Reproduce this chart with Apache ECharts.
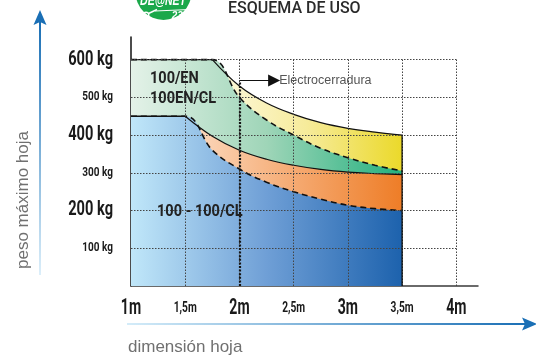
<!DOCTYPE html>
<html>
<head>
<meta charset="utf-8">
<title>Esquema de uso</title>
<script src="https://cdn.jsdelivr.net/npm/echarts@6/dist/echarts.min.js"></script>
<style>
  html, body { margin: 0; padding: 0; background: #fff; }
  #chart { width: 536px; height: 356px; }
</style>
</head>
<body>
<div id="chart"></div>
<script>
// dimensión hoja (m) donde se leen las curvas
const dims = [1, 1.5, 1.75, 2, 2.25, 2.5, 2.75, 3, 3.25, 3.5];
// peso máximo (kg) en el borde superior de cada zona
const yellowTop = [null, null, 600, 530, 485, 455, 433, 418, 408, 400];
const greenTop  = [600, 600, 600, 500, 440, 400, 365, 340, 320, 305];
const orangeTop = [null, 450, 397, 360, 336, 320, 309, 302, 298, 295];
const blueTop   = [450, 450, 360, 310, 275, 250, 230, 214, 205, 200];

const xTicks  = [1, 1.5, 2, 2.5, 3, 3.5, 4];
const xLabels = ['1m', '1,5m', '2m', '2,5m', '3m', '3,5m', '4m'];
const yTicks  = [100, 200, 300, 400, 500, 600];
const yLabels = ['100 kg', '200 kg', '300 kg', '400 kg', '500 kg', '600 kg'];

const lockDim = 2;          // Electrocerradura
const lockArrow = [2, 2.32, 545];
const zonePos = [[1.175, 549], [1.175, 496], [1.24, 196]];
const zoneNames = ['100/EN', '100EN/CL', '100 - 100/CL'];

const SANS = '"Liberation Sans", Arial, sans-serif';
const COND = 'Roboto, "Liberation Sans", sans-serif';

function pairs(arr, from, to) {
  const out = [];
  dims.forEach((d, i) => {
    if (arr[i] == null) return;
    if (from != null && d < from) return;
    if (to != null && d > to) return;
    out.push([d, arr[i]]);
  });
  return out;
}

function grad(stops) {
  return new echarts.graphic.LinearGradient(0, 0, 1, 0,
    stops.map((c, i) => ({ offset: i / (stops.length - 1), color: c })));
}

function zone(name, arr, colors, lineType, z) {
  return {
    name, type: 'line', data: pairs(arr), smooth: 0.4,
    showSymbol: false, silent: true, z,
    lineStyle: { color: '#111', width: lineType === 'solid' ? 1.2 : 1.6, type: lineType },
    areaStyle: { color: grad(colors), opacity: 1 }
  };
}

function edge(data, type) {
  return {
    type: 'line', data, showSymbol: false, silent: true, z: 4,
    lineStyle: { color: '#111', width: 1.3, type }
  };
}

// textos estrechos (la fuente original es condensada)
function textSeries(data, render) {
  return {
    type: 'custom', silent: true, clip: false, z: 10, data,
    renderItem: (params, api) => {
      const t = render(params.dataIndex, api.coord([api.value(0), api.value(1)]));
      return {
        type: 'text', x: t.x, y: t.y, scaleX: t.scaleX,
        style: { text: t.text, font: t.font, fill: t.fill || '#1a1a1a',
                 align: t.align, verticalAlign: 'middle' }
      };
    }
  };
}

// lineas de la cuadricula
const gridLines = [];
xTicks.slice(1).forEach(x => {
  gridLines.push([{ coord: [x, 0] }, { coord: [x, yTicks[yTicks.length - 1]] }]);
});
yTicks.forEach(y => {
  gridLines.push([{ coord: [xTicks[0], y] }, { coord: [xTicks[xTicks.length - 1], y] }]);
});

const lastIdx = dims.length - 1;

let myChart = echarts.init(document.getElementById('chart'));
let option = {
  animation: false,
  backgroundColor: '#fff',
  grid: { left: 131, right: 58, top: 37, bottom: 70 },
  xAxis: {
    type: 'value', min: 1, max: 4.2, interval: 0.5,
    axisLine: { show: true, lineStyle: { color: '#3a3a3a', width: 1.5 } },
    axisTick: { show: false },
    splitLine: { show: false },
    axisLabel: { show: false }
  },
  yAxis: {
    type: 'value', min: 0, max: 660, interval: 100,
    axisLine: { show: true, lineStyle: { color: '#111', width: 1.5 } },
    axisTick: { show: false },
    splitLine: { show: false },
    axisLabel: { show: false }
  },
  series: [
    zone('yellow', yellowTop, ['#fdf9e0', '#f6eb9a', '#ebd92a'], 'solid', 1),
    zone('green', greenTop, ['#e4f2e8', '#9fd5b8', '#22b07e'], [6, 4], 1),
    zone('orange', orangeTop, ['#fcdcc3', '#f5aa72', '#ee7d27'], 'solid', 1),
    zone('blue', blueTop, ['#c0e7f9', '#6f9fd6', '#1d62ad'], [6, 4], 1),
    edge(pairs(greenTop, null, 1.75), 'solid'),
    edge(pairs(blueTop, null, 1.5), 'solid'),
    {
      type: 'line', silent: true, showSymbol: false, z: 5,
      data: [[dims[lastIdx], 0], [dims[lastIdx], yellowTop[lastIdx]]],
      lineStyle: { color: '#111', width: 1.3 },
      markLine: {
        silent: true, symbol: 'none', animation: false,
        label: { show: false },
        lineStyle: { color: '#444', width: 1, type: [1.5, 1.5] },
        data: gridLines.concat([
          [{ coord: [lockDim, 0], lineStyle: { color: '#151515', width: 2.2, type: [2, 1.6] } },
           { coord: [lockDim, lockArrow[2]] }]
        ])
      }
    },
    {
      type: 'line', silent: true, showSymbol: false, z: 6, data: [],
      markLine: {
        silent: true, animation: false,
        symbol: ['none', 'triangle'], symbolSize: 12, symbolRotate: -90,
        lineStyle: { color: '#111', width: 1.2, type: 'solid' },
        label: {
          show: true, position: 'end', distance: 5,
          formatter: 'Electrocerradura',
          fontFamily: SANS, fontSize: 12.5, color: '#555'
        },
        data: [[{ coord: [lockArrow[0], lockArrow[2]] }, { coord: [lockArrow[1], lockArrow[2]] }]]
      }
    },
    // etiquetas eje y
    textSeries(yTicks.map(v => [xTicks[0], v]), (i, p) => {
      const big = i % 2 === 1;
      return { x: p[0] - 18, y: p[1], text: yLabels[i], align: 'right',
               scaleX: big ? 0.75 : 0.8,
               font: (big ? 'bold 19.5px ' : 'bold 12.5px ') + COND };
    }),
    // etiquetas eje x
    textSeries(xTicks.map(v => [v, 0]), (i, p) => {
      const big = i % 2 === 0;
      return { x: p[0], y: p[1] + 22, text: xLabels[i], align: 'center',
               scaleX: big ? 0.64 : 0.68,
               font: (big ? 'bold 22px ' : 'bold 15px ') + COND };
    }),
    // nombres de las zonas
    textSeries(zonePos, (i, p) => ({
      x: p[0], y: p[1], text: zoneNames[i], align: 'left', scaleX: 0.88,
      fill: '#222', font: 'bold 16.5px ' + COND
    }))
  ],
  graphic: [
    // logo
    { type: 'circle', shape: { cx: 163.5, cy: -8, r: 28 }, style: { fill: '#1ba84a' }, z: 20 },
    { type: 'text', x: 163, y: 8, scaleX: 0.75, z: 21,
      style: { text: 'DE@NET', fill: '#fff', font: 'italic bold 14px ' + SANS, align: 'center', verticalAlign: 'bottom' } },
    { type: 'polyline', shape: { points: [[155, 11], [190, 9.5]] }, style: { stroke: '#fff', lineWidth: 1 }, z: 21 },
    { type: 'text', x: 180, y: 16, z: 21,
      style: { text: '230', fill: '#fff', font: 'italic bold 10px ' + SANS, align: 'center', verticalAlign: 'middle' } },
    { type: 'circle', shape: { cx: 146, cy: 15, r: 2.8 }, style: { fill: 'none', stroke: '#fff', lineWidth: 1.4 }, z: 21 },
    { type: 'polyline', shape: { points: [[148.5, 13.5], [157, 9.5]] }, style: { stroke: '#fff', lineWidth: 1.4 }, z: 21 },
    { type: 'text', x: 228, y: 9, z: 21,
      style: { text: 'ESQUEMA DE USO', fill: '#2b2b2b', font: '500 16px Roboto, sans-serif', verticalAlign: 'middle' } },
    // flecha vertical
    { type: 'rect', shape: { x: 39, y: 22, width: 2, height: 253 }, z: 20,
      style: { fill: new echarts.graphic.LinearGradient(0, 1, 0, 0, [
        { offset: 0, color: '#dcefFa' }, { offset: 1, color: '#1a6fb5' }]) } },
    { type: 'polygon', shape: { points: [[40, 10], [46.5, 25], [40, 22], [33.5, 25]] },
      style: { fill: '#1a6fb5' }, z: 20 },
    { type: 'text', x: 23, y: 200, rotation: Math.PI / 2, z: 20,
      style: { text: 'peso máximo hoja', fill: '#707070', font: '17px ' + SANS, align: 'center', verticalAlign: 'middle' } },
    // flecha horizontal
    { type: 'rect', shape: { x: 127, y: 323, width: 400, height: 2 }, z: 20,
      style: { fill: new echarts.graphic.LinearGradient(0, 0, 1, 0, [
        { offset: 0, color: '#d4ecf9' }, { offset: 1, color: '#1a6fb5' }]) } },
    { type: 'polygon', shape: { points: [[537, 324], [522, 317.5], [525, 324], [522, 330.5]] },
      style: { fill: '#1a6fb5' }, z: 20 },
    { type: 'text', x: 128, y: 347, z: 20,
      style: { text: 'dimensión hoja', fill: '#707070', font: '17px ' + SANS, verticalAlign: 'middle' } }
  ]
};
myChart.setOption(option);
</script>
</body>
</html>
